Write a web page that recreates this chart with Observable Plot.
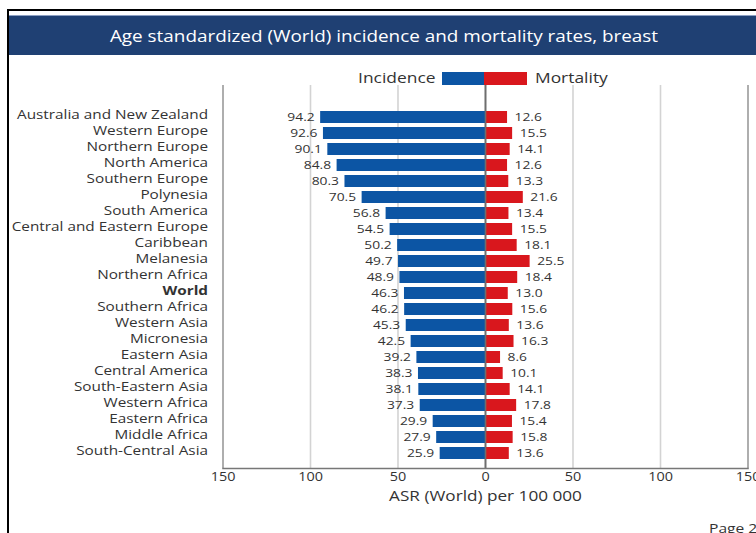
<!DOCTYPE html>
<html><head><meta charset="utf-8">
<script src="https://cdn.jsdelivr.net/npm/d3@7"></script>
<script src="https://cdn.jsdelivr.net/npm/@observablehq/plot@0.6"></script>
<style>
body{margin:0;background:#fff;font-family:"Open Sans",sans-serif;}
#page{position:relative;width:756px;height:533px;overflow:hidden;background:#fff;}
#frame{position:absolute;left:7px;top:9px;width:800px;height:600px;border-top:2px solid #000;border-left:2px solid #000;}
#titlebar{position:absolute;left:9px;top:15px;width:760px;height:40px;background:#1f4073;border-top:1px solid #8da0c2;box-sizing:border-box;}
#titlebar span{position:absolute;left:0;width:753px;text-align:center;top:10px;color:#fff;font-size:16px;line-height:20px;transform:scaleX(1.18);transform-origin:385px 50%;}
#legend{position:absolute;top:72px;left:0;width:756px;height:13px;font-size:14.5px;color:#333;}
#legend .lab{position:absolute;top:-4px;line-height:20px;}
#legend .box{position:absolute;top:0;height:13px;}
#chart{position:absolute;left:0;top:60px;}
#pageno{position:absolute;left:709px;top:518px;font-size:13px;color:#333;line-height:20px;transform:scaleX(1.2);transform-origin:0 50%;}
</style></head><body>
<div id="page">
  <div id="frame"></div>
  <div id="titlebar"><span>Age standardized (World) incidence and mortality rates, breast</span></div>
  <div id="legend">
    <div class="lab" style="right:320px;transform:scaleX(1.2);transform-origin:100% 50%;">Incidence</div>
    <div class="box" style="left:442px;width:42px;background:#0c55a4;"></div>
    <div class="box" style="left:484px;width:43px;background:#d9171d;"></div>
    <div class="lab" style="left:535px;transform:scaleX(1.2);transform-origin:0 50%;">Mortality</div>
  </div>
  <div id="chart"></div>
  <div id="pageno">Page 2</div>
</div>
<script>
const regions = ["Australia and New Zealand","Western Europe","Northern Europe","North America","Southern Europe","Polynesia","South America","Central and Eastern Europe","Caribbean","Melanesia","Northern Africa","World","Southern Africa","Western Asia","Micronesia","Eastern Asia","Central America","South-Eastern Asia","Western Africa","Eastern Africa","Middle Africa","South-Central Asia"];
const incidence = [94.2,92.6,90.1,84.8,80.3,70.5,56.8,54.5,50.2,49.7,48.9,46.3,46.2,45.3,42.5,39.2,38.3,38.1,37.3,29.9,27.9,25.9];
const mortality = [12.6,15.5,14.1,12.6,13.3,21.6,13.4,15.5,18.1,25.5,18.4,13.0,15.6,13.6,16.3,8.6,10.1,14.1,17.8,15.4,15.8,13.6];
const xTicks = [-150,-100,-50,0,50,100,150];
const axisTitle = "ASR (World) per 100 000";

const rows = regions.map((r,i)=>({region:r, inc:incidence[i], mort:mortality[i]}));
const BLUE = "#0c55a4", RED = "#d9171d", TXT = "#333";

const plot = Plot.plot({
  width: 756,
  height: 473,
  marginLeft: 222.5,
  marginRight: 8.5,
  marginTop: 25,
  marginBottom: 65,
  style: {fontFamily: "Open Sans", background: "transparent", overflow: "visible"},
  x: {domain: [-150,150]},
  y: {domain: regions, range: [46.3, 404.6], padding: 0.24},
  marks: [
    Plot.ruleX(xTicks, {x: d=>d, stroke: d => d===0 ? "#6e6e6e" : Math.abs(d)===150 ? "#9a9a9a" : "#d3d3d3", strokeWidth: 1.6}),
    Plot.barX(rows, {y:"region", x1: 0, x2: d=>-d.inc, fill: BLUE}),
    Plot.barX(rows, {y:"region", x1: 0, x2: d=>d.mort, fill: RED}),
    Plot.ruleX([0], {stroke:"#6e6e6e", strokeWidth:1.6}),
    Plot.frame({anchor:"bottom", stroke:"#777", strokeWidth:1.6}),
    Plot.text(rows, {y:"region", x: d=>-d.inc, text: d=>d.inc.toFixed(1), textAnchor:"end", dx:-6, fontSize:11.5, fill:TXT}),
    Plot.text(rows, {y:"region", x: d=>d.mort, text: d=>d.mort.toFixed(1), textAnchor:"start", dx:7, fontSize:11.5, fill:TXT}),
    Plot.axisY(regions.filter(r=>r!=="World"), {tickSize:0, tickPadding:15, fontSize:12.5, dy:-2.5, color:TXT, label:null}),
    Plot.axisY(["World"], {tickSize:0, tickPadding:15, fontSize:12.5, dy:-2.5, color:TXT, fontWeight:"bold", label:null}),
    Plot.axisX(xTicks, {tickFormat: d=>Math.abs(d), tickSize:0, tickPadding:4, fontSize:12, color:TXT, label:null}),
    Plot.text([axisTitle], {frameAnchor:"bottom", dy:32, fontSize:14.3, fill:TXT})
  ]
});
document.getElementById("chart").appendChild(plot);
// the reference's lettering is horizontally stretched; reproduce that
d3.select(plot).selectAll("text").each(function(){
  if (this.querySelector("tspan")) return;
  const g = this.closest("g[aria-label]");
  const isY = g && /y-axis/.test(g.getAttribute("aria-label"));
  const K = isY ? 1.225 : 1.2;
  const len = this.getComputedTextLength();
  if (len > 0) {
    this.setAttribute("textLength", len * K);
    this.setAttribute("lengthAdjust", "spacingAndGlyphs");
  }
});
</script>
</body></html>
